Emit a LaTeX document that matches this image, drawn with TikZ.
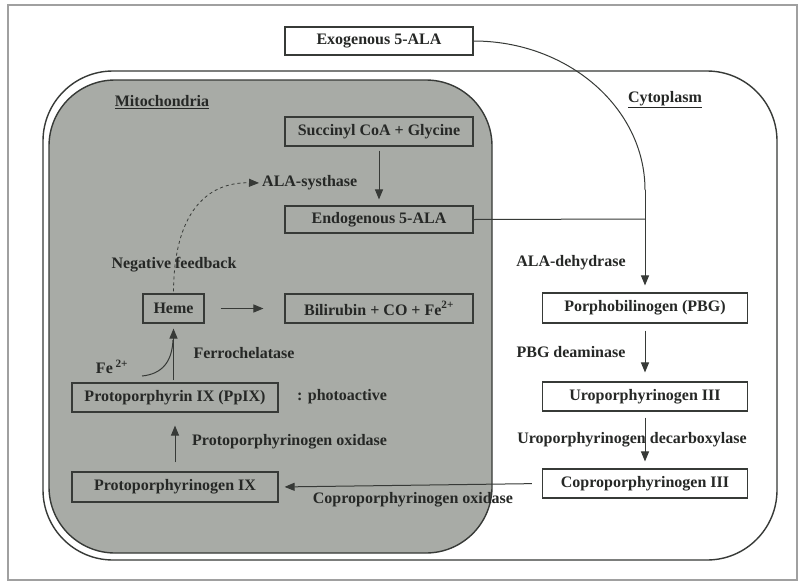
\documentclass[tikz,border=0pt]{standalone}
\usepackage{fontspec}
\setmainfont{Liberation Serif}[BoldFont={Liberation Serif Bold},ItalicFont={Liberation Serif Italic}]
\newfontfamily\figfont{Liberation Serif Bold}
\usetikzlibrary{arrows.meta}
\definecolor{linec}{RGB}{55,58,55}
\definecolor{textc}{RGB}{38,40,38}
\definecolor{mitofill}{RGB}{168,171,166}
\definecolor{framec}{RGB}{160,160,160}
\begin{document}
\begin{tikzpicture}[x=1pt,y=-1pt,
  txt/.style={text=textc,font=\figfont\fontsize{16}{18}\selectfont,inner sep=0pt},
  box/.style={txt,draw=linec,line width=1.1pt,minimum height=29pt,inner sep=0pt},
  wbox/.style={box,fill=white},
  arr/.style={draw=linec,line width=1pt,-{Triangle[length=10pt,width=8pt]}},
  conn/.style={draw=linec,line width=1pt}
]
\useasboundingbox (0,0) rectangle (800,584);
\fill[white] (0,0) rectangle (800,584);
\draw[framec,line width=1.5pt] (8,5) rectangle (797,580);
% cell (cytoplasm) and mitochondria
\draw[linec,line width=1.4pt,rounded corners=70pt] (43,71) rectangle (777,560);
\filldraw[fill=mitofill,draw=linec,line width=1.4pt,rounded corners=66pt] (49,80) rectangle (492,553);

% labels of compartments
\node[txt] (mitolab) at (162,102) {\underline{Mitochondria}};
\node[txt] (cytolab) at (665,100) {\underline{Cytoplasm}};

% boxes
\node[wbox,minimum width=188pt,minimum height=28pt] (exo) at (379,41) {Exogenous 5-ALA};
\node[box,minimum width=188pt] (succ) at (379,131.5) {Succinyl CoA + Glycine};
\node[box,minimum width=188pt,minimum height=27pt] (endo) at (379,219.5) {Endogenous 5-ALA};
\node[box,minimum width=188pt] (bili) at (379,308.5) {Bilirubin + CO + Fe\textsuperscript{2+}};
\node[box,minimum width=61pt] (heme) at (173.5,308.5) {Heme};
\node[box,minimum width=206pt] (ppix) at (175,397.5) {Protoporphyrin IX (PpIX)};
\node[box,minimum width=206pt,minimum height=30pt] (pgen) at (175,487) {Protoporphyrinogen IX};
\node[wbox,minimum width=205pt,minimum height=30pt] (pbg) at (645,308) {Porphobilinogen (PBG)};
\node[wbox,minimum width=205pt] (uro) at (645,396.5) {Uroporphyrinogen III};
\node[wbox,minimum width=205pt] (copro) at (645,483.5) {Coproporphyrinogen III};

% text labels
\node[txt,anchor=west] (alas) at (262,183) {ALA-systhase};
\node[txt] (negfb) at (174,265) {Negative feedback};
\node[txt] (ferro) at (244,353) {Ferrochelatase};
\node[txt,anchor=west] (photo) at (297,397) {: photoactive};
\node[txt,anchor=west] (ppox) at (192,442) {Protoporphyrinogen oxidase};
\node[txt] (cpox) at (413,500) {Coproporphyrinogen oxidase};
\node[txt] (aladh) at (571,263) {ALA-dehydrase};
\node[txt] (pbgd) at (571,352) {PBG deaminase};
\node[txt] (urod) at (632,440) {Uroporphyrinogen decarboxylase};
\node[txt] (fe) at (112,367) {Fe\,\textsuperscript{2+}};

% coordinates for free ends / joins
\coordinate (bend) at (645,190);
\coordinate (join) at (645,219);
\coordinate (festart) at (142,376);
\coordinate (fejoin) at (173,340);

% connectors
\draw[conn] (exo.east) .. controls (568,41) and (645,108) .. (bend);
\draw[arr,shorten >=7pt] (bend) -- (pbg.north);
\draw[conn] (endo.east) -- (join);
\draw[arr,shorten <=4pt,shorten >=6pt] (succ.south) -- (endo.north);
\draw[arr,shorten <=16pt,shorten >=21pt] (heme.east) -- (bili.west);
\draw[arr,shorten <=2pt,shorten >=5pt] (ppix.north -| heme.south) -- (heme.south);
\draw[conn] (festart) .. controls (162,374) and (172,362) .. (fejoin);
\draw[arr,shorten <=9pt,shorten >=13pt] (pgen.north) -- (ppix.south);
\draw[arr,shorten <=10pt,shorten >=6pt] (copro.west) -- (pgen.east);
\draw[arr,shorten <=7pt,shorten >=9pt] (pbg.south) -- (uro.north);
\draw[arr,shorten <=6pt,shorten >=7pt] (uro.south) -- (copro.north);
\draw[arr,dashed,line width=0.8pt,shorten <=2pt,shorten >=3pt] (heme.north) .. controls (174,215) and (205,182) .. (alas.west);
\end{tikzpicture}
\end{document}
